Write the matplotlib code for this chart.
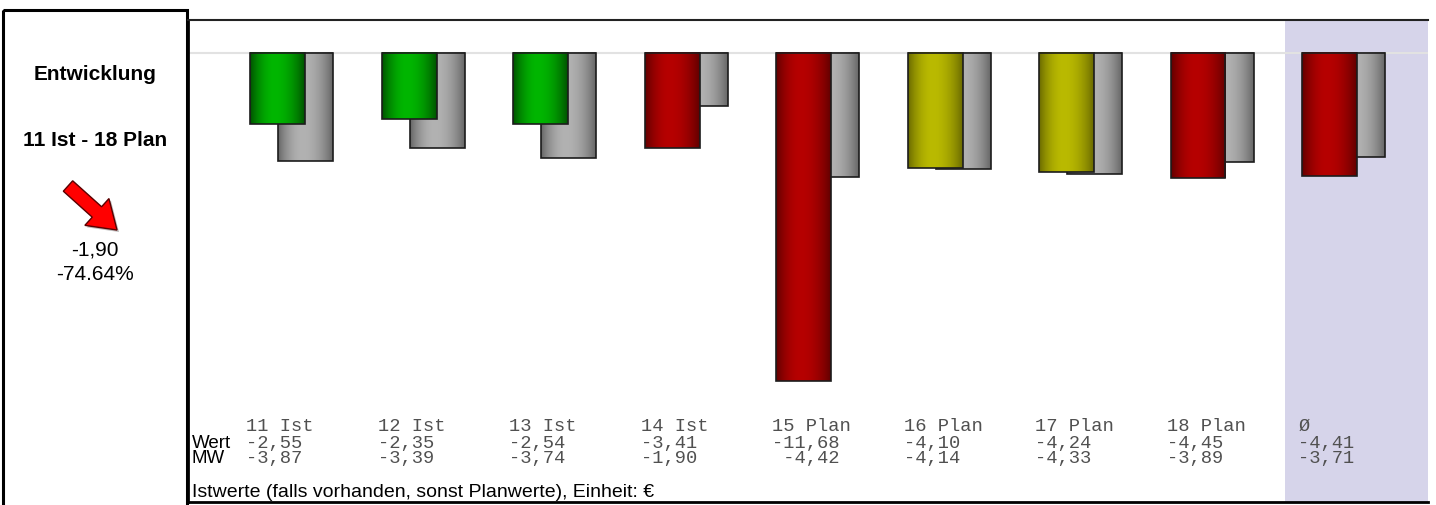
import numpy as np
import matplotlib.pyplot as plt
import matplotlib.transforms as mtransforms
from matplotlib.patches import Rectangle, FancyArrow

# Daten
labels = ['11 Ist', '12 Ist', '13 Ist', '14 Ist', '15 Plan', '16 Plan', '17 Plan', '18 Plan', 'Ø']
wert = [-2.55, -2.35, -2.54, -3.41, -11.68, -4.10, -4.24, -4.45, -4.41]
mw = [-3.87, -3.39, -3.74, -1.90, -4.42, -4.14, -4.33, -3.89, -3.71]
ampel = ['gruen', 'gruen', 'gruen', 'rot', 'rot', 'gelb', 'gelb', 'rot', 'rot']
trend_titel = ['Entwicklung', '11 Ist - 18 Plan']
trend_wert = '-1,90'
trend_proz = '-74.64%'
fussnote = 'Istwerte (falls vorhanden, sonst Planwerte), Einheit: €'

# Farbverläufe (Rand dunkel, Mitte hell)
verlauf = {
    'gruen': ((0, 80, 0), (0, 182, 0)),
    'rot': ((96, 0, 0), (182, 0, 0)),
    'gelb': ((104, 104, 0), (186, 186, 0)),
    'grau': ((100, 100, 100), (178, 178, 178)),
}

W, H = 1436, 505


def fmt(v):
    return f'{v:.2f}'.replace('.', ',')


def zylinder(name, n=64, peak=0.45):
    dunkel, hell = verlauf[name]
    t = np.linspace(0, 1, n)
    p = np.where(t < peak, t / peak, (1 - t) / (1 - peak))
    p = np.sin(p * np.pi / 2) ** 0.8
    d = np.array(dunkel) / 255.0
    h = np.array(hell) / 255.0
    return (d[None, :] + (h - d)[None, :] * p[:, None])[None, :, :]


def balken(ax, x0, breite, wert_, name, z):
    ax.imshow(zylinder(name), extent=[x0, x0 + breite, wert_, 0],
              aspect='auto', interpolation='bilinear', zorder=z)
    ax.add_patch(Rectangle((x0, wert_), breite, -wert_, fill=False,
                           ec='#1c1c1c', lw=1.2, zorder=z + 0.1))


fig = plt.figure(figsize=(W / 100, H / 100), dpi=100)

# Rahmen + linke Box (Pixelkoordinaten)
bg = fig.add_axes([0, 0, 1, 1])
bg.set_xlim(0, W)
bg.set_ylim(H, 0)
bg.axis('off')
bg.add_patch(Rectangle((3, 10), 184, 520, fill=False, ec='black', lw=2.2))

bg.text(95, 75, trend_titel[0], ha='center', va='center', fontsize=15,
        fontweight='bold', family='Liberation Sans')
bg.text(95, 140, trend_titel[1], ha='center', va='center', fontsize=15,
        fontweight='bold', family='Liberation Sans')
bg.text(95, 250, trend_wert, ha='center', va='center', fontsize=15,
        family='Liberation Sans')
bg.text(95, 274, trend_proz, ha='center', va='center', fontsize=15,
        family='Liberation Sans')

# Pfeil nach unten rechts
bg.add_patch(FancyArrow(70, 188, 49, 44, width=14, head_width=36, head_length=27,
                        length_includes_head=True, fc='#777777', ec='none',
                        alpha=0.5))
bg.add_patch(FancyArrow(68, 186, 49, 44, width=14, head_width=36, head_length=27,
                        length_includes_head=True, fc='#ff0000', ec='#5a0000',
                        lw=1))

# Hauptdiagramm
ax = fig.add_axes([188 / W, 3 / H, 1240 / W, 482 / H])
ax.set_facecolor('white')

x = np.arange(len(labels))
bw = 0.418
off = 0.213

ax.axvspan(7.66, 9, color='#d6d4ea', zorder=0, lw=0)
ax.axhline(0, color='#e2e2e2', lw=1.5, zorder=1)

for i in range(len(labels)):
    balken(ax, x[i] - bw / 2 + off, bw, mw[i], 'grau', 2)
    balken(ax, x[i] - bw / 2, bw, wert[i], ampel[i], 3)

ax.set_xlim(-0.681, 8.749)
ax.set_ylim(-16.0, 1.157)
ax.set_xticks([])
ax.set_yticks([])

ax.spines['right'].set_visible(False)
ax.spines['top'].set_color('#222222')
ax.spines['top'].set_linewidth(1.5)
ax.spines['left'].set_linewidth(2)
ax.spines['bottom'].set_linewidth(2)

mono = dict(family='Liberation Mono', fontsize=13.5, color='#505050', va='baseline')
for i in range(len(labels)):
    ws = fmt(wert[i])
    ms = fmt(mw[i]).rjust(len(ws))
    xt = x[i] - bw / 2 - 0.03
    ax.text(xt, -13.47, labels[i], **mono)
    ax.text(xt, -14.07, ws, **mono)
    ax.text(xt, -14.61, ms, **mono)

trans = mtransforms.blended_transform_factory(ax.transAxes, ax.transData)
ax.text(0.003, -14.07, 'Wert', transform=trans, family='Liberation Sans',
        fontsize=13.5, va='baseline')
ax.text(0.003, -14.61, 'MW', transform=trans, family='Liberation Sans',
        fontsize=13.5, va='baseline')
ax.text(0.003, -15.82, fussnote, transform=trans, family='Liberation Sans',
        fontsize=14, va='baseline')

fig.savefig('out.png', dpi=100)
